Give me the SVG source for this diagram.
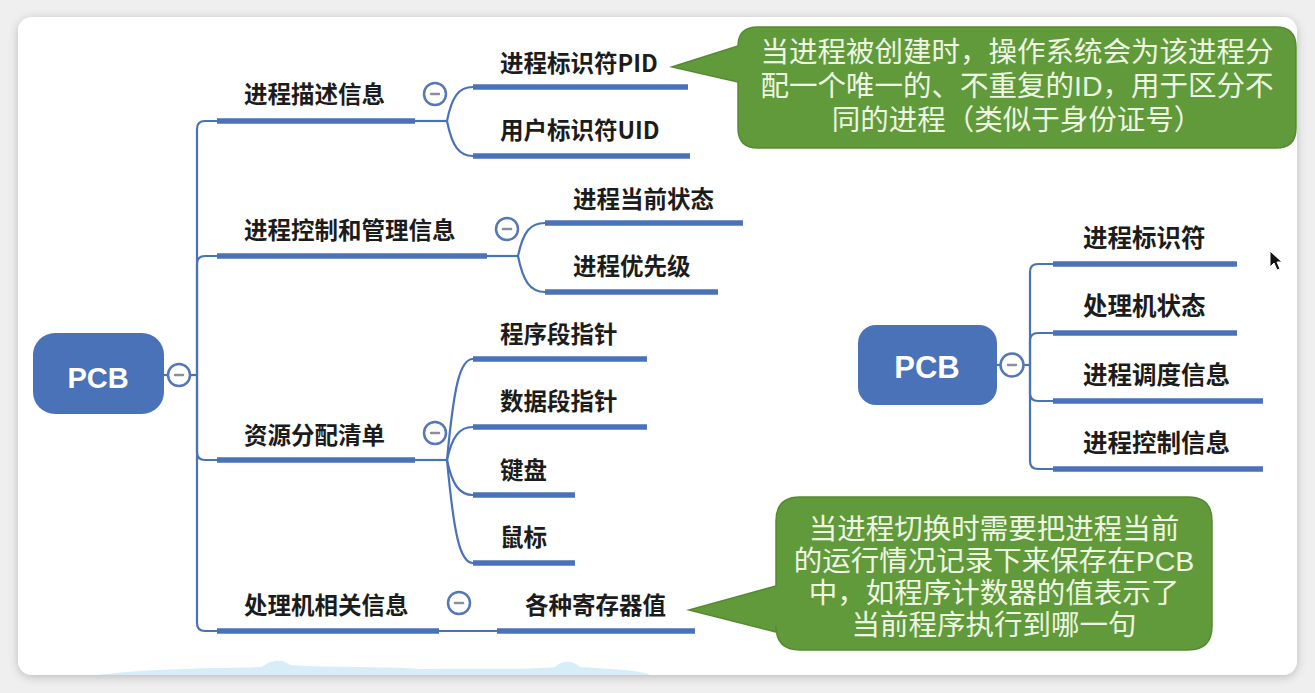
<svg xmlns="http://www.w3.org/2000/svg" width="1315" height="693" viewBox="0 0 1315 693">
<defs>
<filter id="sh" x="-5%" y="-5%" width="110%" height="115%">
<feDropShadow dx="0" dy="2" stdDeviation="5" flood-color="#000" flood-opacity="0.22"/>
</filter>
<style>
.lbl{font-family:"Noto Sans CJK SC","Noto Sans",sans-serif;font-weight:700;font-size:23.5px;fill:#1c1c1c}
.lblr{font-family:"Noto Sans CJK SC","Noto Sans",sans-serif;font-weight:700;font-size:24.5px;fill:#1c1c1c}
.root{fill:#4a72b8}
.roottxt{font-family:"Liberation Sans",Arial,sans-serif;font-weight:700;fill:#fff;text-anchor:middle}
.ul{stroke:#4a72b8;stroke-width:5.5;fill:none}
.cn{stroke:#4a72b8;stroke-width:2.2;fill:none}
.btn{fill:#fff;stroke:#5577b8;stroke-width:2.5}
.minus{stroke:#8a8f99;stroke-width:2.5;stroke-linecap:round}
.call{fill:#619a3b;stroke:#548a30;stroke-width:1.5}
.ctxt{font-family:"Liberation Sans","Noto Sans CJK SC",sans-serif;font-weight:400;font-size:28.5px;fill:#eef7e2;text-anchor:middle}
</style>
</defs>
<rect x="0" y="0" width="1315" height="693" fill="#efefef"/>
<rect x="18" y="17" width="1279" height="658" rx="14" fill="#ffffff" filter="url(#sh)"/>
<path d="M95,675 C150,668 230,668 262,667 C270,660 282,658 290,665 C330,668 380,666 420,669 C480,668 530,670 555,667 C562,660 572,660 580,667 C610,669 640,670 650,675 Z" fill="#cdeaf7" opacity="0.8"/>

<g id="connectors">
<line class="cn" x1="164" y1="375" x2="168" y2="375"/>
<line class="cn" x1="190" y1="375" x2="197" y2="375"/>
<path class="cn" d="M197,375 V129 Q197,121 205,121 H217"/>
<path class="cn" d="M197,375 V264 Q197,256 205,256 H217"/>
<path class="cn" d="M197,375 V452 Q197,460 205,460 H217"/>
<path class="cn" d="M197,375 V623 Q197,631 205,631 H217"/>
<line class="cn" x1="415" y1="121" x2="447" y2="121"/>
<path class="cn" d="M447,121 C452,96 459,87 473,87"/>
<path class="cn" d="M447,121 C452,146 459,156 473,156"/>
<line class="cn" x1="487" y1="256" x2="518" y2="256"/>
<path class="cn" d="M518,256 C523,232 530,223 545,223"/>
<path class="cn" d="M518,256 C523,281 530,292 545,292"/>
<line class="cn" x1="415" y1="460" x2="447" y2="460"/>
<path class="cn" d="M447,460 C454,385 460,359 473,359"/>
<path class="cn" d="M447,460 C452,437 459,427 473,427"/>
<path class="cn" d="M447,460 C452,484 459,495 473,495"/>
<path class="cn" d="M447,460 C454,535 460,563 473,563"/>
<line class="cn" x1="439" y1="631" x2="497" y2="631"/>
<line class="cn" x1="997" y1="365" x2="1000" y2="365"/>
<line class="cn" x1="1024" y1="365" x2="1030" y2="365"/>
<path class="cn" d="M1030,365 V272 Q1030,264 1038,264 H1053"/>
<path class="cn" d="M1030,365 V341 Q1030,333 1038,333 H1053"/>
<path class="cn" d="M1030,365 V393 Q1030,401 1038,401 H1053"/>
<path class="cn" d="M1030,365 V461 Q1030,469 1038,469 H1053"/>
</g>

<g id="pcb-left">
<rect class="root" x="33" y="333" width="131" height="81" rx="22"/>
<text class="roottxt" x="98" y="388" font-size="29">PCB</text>
<circle class="btn" cx="179" cy="375" r="11"/>
<line class="minus" x1="175" y1="375" x2="183" y2="375"/>
</g>

<g id="n-desc">
<text class="lbl" x="244" y="103">进程描述信息</text>
<line class="ul" x1="217" y1="121" x2="415" y2="121"/>
<circle class="btn" cx="435" cy="94" r="11"/>
<line class="minus" x1="431" y1="94" x2="439" y2="94"/>
</g>
<g id="n-pid">
<text class="lbl" x="500" y="72">进程标识符PID</text>
<line class="ul" x1="473" y1="87" x2="688" y2="87"/>
</g>
<g id="n-uid">
<text class="lbl" x="500" y="139">用户标识符UID</text>
<line class="ul" x1="473" y1="156" x2="690" y2="156"/>
</g>

<g id="n-ctrl">
<text class="lbl" x="244" y="239">进程控制和管理信息</text>
<line class="ul" x1="217" y1="256" x2="487" y2="256"/>
<circle class="btn" cx="507" cy="229" r="11"/>
<line class="minus" x1="503" y1="229" x2="511" y2="229"/>
</g>
<g id="n-state">
<text class="lbl" x="573" y="208">进程当前状态</text>
<line class="ul" x1="545" y1="223" x2="743" y2="223"/>
</g>
<g id="n-prio">
<text class="lbl" x="573" y="275">进程优先级</text>
<line class="ul" x1="545" y1="292" x2="718" y2="292"/>
</g>

<g id="n-res">
<text class="lbl" x="244" y="444">资源分配清单</text>
<line class="ul" x1="217" y1="460" x2="415" y2="460"/>
<circle class="btn" cx="435" cy="433" r="11"/>
<line class="minus" x1="431" y1="433" x2="439" y2="433"/>
</g>
<g id="n-code">
<text class="lbl" x="500" y="343">程序段指针</text>
<line class="ul" x1="473" y1="359" x2="647" y2="359"/>
</g>
<g id="n-data">
<text class="lbl" x="500" y="410">数据段指针</text>
<line class="ul" x1="473" y1="427" x2="647" y2="427"/>
</g>
<g id="n-kbd">
<text class="lbl" x="500" y="479">键盘</text>
<line class="ul" x1="473" y1="495" x2="575" y2="495"/>
</g>
<g id="n-mouse">
<text class="lbl" x="500" y="546">鼠标</text>
<line class="ul" x1="473" y1="563" x2="575" y2="563"/>
</g>

<g id="n-cpu">
<text class="lbl" x="244" y="614">处理机相关信息</text>
<line class="ul" x1="217" y1="631" x2="439" y2="631"/>
<circle class="btn" cx="459" cy="603" r="11"/>
<line class="minus" x1="455" y1="603" x2="463" y2="603"/>
</g>
<g id="n-reg">
<text class="lbl" x="525" y="614">各种寄存器值</text>
<line class="ul" x1="497" y1="631" x2="695" y2="631"/>
</g>

<g id="callout-pid">
<path class="call" d="M758,27 H1276 Q1296,27 1296,47 V128 Q1296,148 1276,148 H758 Q738,148 738,128 V82 L672,67 L738,46 Q738,27 758,27 Z"/>
<text class="ctxt" x="1017" y="62">当进程被创建时，操作系统会为该进程分</text>
<text class="ctxt" x="1017" y="96">配一个唯一的、不重复的ID，用于区分不</text>
<text class="ctxt" x="1017" y="130">同的进程（类似于身份证号）</text>
</g>

<g id="callout-reg">
<path class="call" d="M800,497 H1188 Q1212,497 1212,521 V626 Q1212,650 1188,650 H800 Q776,650 776,626 V632 L689,610 L776,586 V521 Q776,497 800,497 Z"/>
<text class="ctxt" x="994" y="539">当进程切换时需要把进程当前</text>
<text class="ctxt" x="994" y="571">的运行情况记录下来保存在PCB</text>
<text class="ctxt" x="994" y="603">中，如程序计数器的值表示了</text>
<text class="ctxt" x="994" y="635">当前程序执行到哪一句</text>
</g>

<g id="pcb-right">
<rect class="root" x="858" y="325" width="139" height="80" rx="18"/>
<text class="roottxt" x="927" y="378" font-size="31">PCB</text>
<circle class="btn" cx="1012" cy="365" r="11.5"/>
<line class="minus" x1="1008" y1="365" x2="1016" y2="365"/>
</g>
<g id="r-pid">
<text class="lblr" x="1083" y="247">进程标识符</text>
<line class="ul" x1="1053" y1="264" x2="1237" y2="264"/>
</g>
<g id="r-cpu">
<text class="lblr" x="1083" y="315">处理机状态</text>
<line class="ul" x1="1053" y1="333" x2="1237" y2="333"/>
</g>
<g id="r-sched">
<text class="lblr" x="1083" y="384">进程调度信息</text>
<line class="ul" x1="1053" y1="401" x2="1263" y2="401"/>
</g>
<g id="r-ctrl">
<text class="lblr" x="1083" y="452">进程控制信息</text>
<line class="ul" x1="1053" y1="469" x2="1263" y2="469"/>
</g>

<path d="M1270,251 L1270,267 L1274,263 L1277,270 L1280,269 L1277,262 L1282,262 Z" fill="#111" stroke="#fff" stroke-width="1"/>
</svg>
